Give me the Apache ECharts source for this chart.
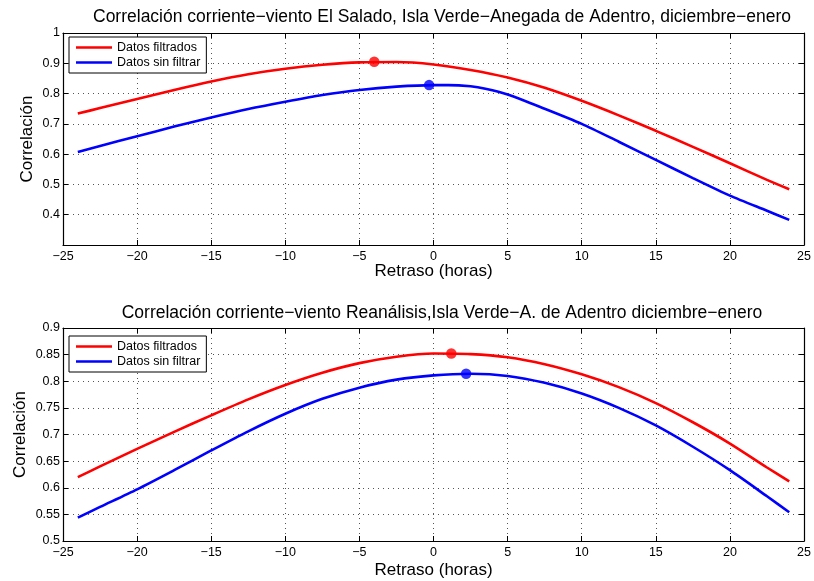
<!DOCTYPE html>
<html>
<head>
<meta charset="utf-8">
<script src="https://cdn.jsdelivr.net/npm/echarts@6/dist/echarts.min.js"></script>
<style>html,body{margin:0;padding:0;background:#fff;}#c{width:814px;height:581px;}</style>
</head>
<body>
<div id="c"></div>
<script>
// Lag values (hours)
var lagTopRed   = [-24, -22.5, -20, -17.5, -15, -12.5, -10, -7.5, -5, -2.5, 0, 2.5, 5, 7.5, 10, 12.5, 15, 17.5, 20, 22.5, 24];
var topRed      = [0.734, 0.752, 0.782, 0.812, 0.840, 0.864, 0.882, 0.895, 0.903, 0.904, 0.896, 0.878, 0.853, 0.819, 0.776, 0.728, 0.677, 0.624, 0.570, 0.515, 0.484];
var lagTopBlue  = [-24, -22.5, -20, -17.5, -15, -12.5, -10, -7.5, -5, -2.5, 0, 1, 2.5, 3.5, 5, 7.5, 10, 12.5, 15, 17.5, 20, 22.5, 24];
var topBlue     = [0.607, 0.627, 0.659, 0.691, 0.721, 0.749, 0.773, 0.795, 0.812, 0.823, 0.828, 0.828, 0.824, 0.816, 0.797, 0.750, 0.700, 0.641, 0.581, 0.521, 0.463, 0.413, 0.383];
var lagBot      = [-24, -22.5, -20, -17.5, -15, -12.5, -10, -7.5, -5, -2.5, 0, 2.5, 5, 7.5, 10, 12.5, 15, 17.5, 20, 22.5, 24];
var botRed      = [0.620, 0.640, 0.673, 0.705, 0.736, 0.766, 0.793, 0.816, 0.834, 0.846, 0.852, 0.851, 0.845, 0.832, 0.813, 0.789, 0.759, 0.723, 0.683, 0.638, 0.612];
var botBlue     = [0.544, 0.564, 0.597, 0.633, 0.670, 0.706, 0.739, 0.767, 0.788, 0.803, 0.811, 0.814, 0.810, 0.797, 0.777, 0.750, 0.717, 0.677, 0.633, 0.584, 0.554];
// Maximum markers [lag, corr]
var topRedMax  = [-4.0, 0.905];
var topBlueMax = [-0.3, 0.828];
var botRedMax  = [1.2, 0.852];
var botBlueMax = [2.2, 0.814];
var legendNames = ['Datos filtrados', 'Datos sin filtrar'];
var titles = ['Correlación corriente\u2212viento El Salado, Isla Verde\u2212Anegada de Adentro, diciembre\u2212enero',
              'Correlación corriente\u2212viento Reanálisis,Isla Verde\u2212A. de Adentro diciembre\u2212enero'];

function zip(xs, ys){ return xs.map(function(x,i){ return [x, ys[i]]; }); }
var FONT = 'Liberation Sans, Arial, sans-serif';
var minus = function(v){ return String(v).replace('-', '\u2212'); };

function xAx(gi, pos, gap){
  var main = pos === 'bottom';
  return {
    type:'value', gridIndex:gi, position:pos, min:-25, max:25, interval:5,
    name: main ? 'Retraso (horas)' : '', nameLocation:'middle', nameGap:gap || 18, nameMoveOverlap:false,
    nameTextStyle:{fontFamily:FONT, fontSize:17, color:'#000'},
    axisLine:{show:true, onZero:false, lineStyle:{color:'#000', width:1.2}},
    axisTick:{show:true, inside:true, length:5, lineStyle:{color:'#000'}},
    axisLabel:{show:main, formatter:minus, fontFamily:FONT, fontSize:12.5, color:'#000', margin:5},
    splitLine:{show:main, lineStyle:{type:[1,4], color:'#555'}}
  };
}
function yAx(gi, pos, min, max, interval, hideMin, gap){
  var main = pos === 'left';
  return {
    type:'value', gridIndex:gi, position:pos, min:min, max:max, interval:interval,
    name: main ? 'Correlación' : '', nameLocation:'middle', nameGap:gap || 27, nameMoveOverlap:false,
    nameTextStyle:{fontFamily:FONT, fontSize:17, color:'#000'},
    axisLine:{show:true, onZero:false, lineStyle:{color:'#000', width:1.2}},
    axisTick:{show:true, inside:true, length:5, lineStyle:{color:'#000'}},
    axisLabel:{show:main, fontFamily:FONT, fontSize:12.5, color:'#000', margin:3,
      formatter:function(v){ if(hideMin && Math.abs(v-min)<1e-9) return ''; return String(+v.toFixed(2)); }},
    splitLine:{show:main, lineStyle:{type:[1,4], color:'#555'}}
  };
}
function line(name, color, xi, yi, data){
  return {type:'line', name:name, xAxisIndex:xi, yAxisIndex:yi, data:data, symbol:'none',
    smooth:0.25, lineStyle:{color:color, width:2.6}, itemStyle:{color:color}, silent:true, z:3};
}
function dot(color, xi, yi, pt){
  return {type:'scatter', name:'max', xAxisIndex:xi, yAxisIndex:yi, data:[pt], symbolSize:10.5,
    itemStyle:{color:color}, silent:true, z:5};
}
function legend(top){
  return {left:69, top:top, orient:'vertical',
    data:legendNames.map(function(n){ return {name:n, icon:'rect'}; }),
    itemWidth:36, itemHeight:2.6, itemGap:2,
    padding:[4,6,4,7], borderColor:'#000', borderWidth:1, backgroundColor:'#fff', borderRadius:0,
    textStyle:{fontFamily:FONT, fontSize:12.5, color:'#000', padding:[0,0,0,0], lineHeight:13}, selectedMode:false};
}

var option = {
  animation:false,
  backgroundColor:'#fff',
  title:[
    {text:titles[0], left:437, top:3, textAlign:'center', textStyle:{fontFamily:FONT, fontSize:17.5, fontWeight:'normal', color:'#000'}},
    {text:titles[1], left:437, top:299, textAlign:'center', textStyle:{fontFamily:FONT, fontSize:17.5, fontWeight:'normal', color:'#000'}}
  ],
  legend:[legend(37), legend(336)],
  grid:[
    {left:63, top:33, width:745, height:212},
    {left:63, top:328, width:745, height:213}
  ],
  xAxis:[xAx(0,'bottom',18), xAx(0,'top'), xAx(1,'bottom',21), xAx(1,'top')],
  yAxis:[yAx(0,'left',0.3,1,0.1,true,27), yAx(0,'right',0.3,1,0.1,true),
         yAx(1,'left',0.5,0.9,0.05,false,34), yAx(1,'right',0.5,0.9,0.05,false)],
  series:[
    line(legendNames[0], '#ff0000', 0, 0, zip(lagTopRed, topRed)),
    line(legendNames[1], '#0000ff', 0, 0, zip(lagTopBlue, topBlue)),
    dot('#ff0000', 0, 0, topRedMax),
    dot('#0000ff', 0, 0, topBlueMax),
    line(legendNames[0], '#ff0000', 2, 2, zip(lagBot, botRed)),
    line(legendNames[1], '#0000ff', 2, 2, zip(lagBot, botBlue)),
    dot('#ff0000', 2, 2, botRedMax),
    dot('#0000ff', 2, 2, botBlueMax)
  ]
};
var chart = echarts.init(document.getElementById('c'), null, {renderer:'canvas'});
chart.setOption(option);
</script>
</body>
</html>
